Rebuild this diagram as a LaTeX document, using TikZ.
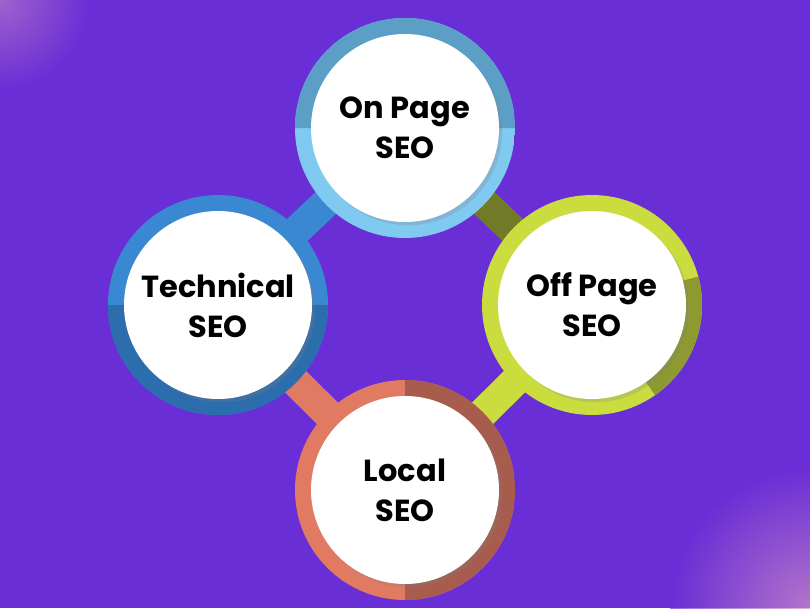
\documentclass[tikz,border=0pt]{standalone}
\usepackage{fontspec}
\setmainfont{Poppins}
\usepackage{tikz}
\usetikzlibrary{positioning,calc,backgrounds,shadows}
\definecolor{bgpurple}{HTML}{6A2ED6}
\definecolor{topA}{HTML}{5C9FC6}
\definecolor{topB}{HTML}{80C9F1}
\definecolor{leftA}{HTML}{3A88D2}
\definecolor{leftB}{HTML}{2C6DAE}
\definecolor{rightA}{HTML}{CBDD3E}
\definecolor{rightB}{HTML}{8E9A30}
\definecolor{lowA}{HTML}{E07A62}
\definecolor{lowB}{HTML}{A85C4E}
\begin{document}
\begin{tikzpicture}[x=0.03cm,y=-0.03cm,
    % ring with a darker arc
    ring/.style n args={4}{circle, minimum size=220*0.03cm, inner sep=0pt,
      path picture={
        \fill[#1] (path picture bounding box.south west) rectangle (path picture bounding box.north east);
        \fill[#2] (path picture bounding box.center) -- ++(#3:300) arc[start angle=#3, end angle=#4, radius=300] -- cycle;
      }},
    disc/.style={circle, fill=white, minimum size=188*0.03cm, inner sep=0pt,
      drop shadow={opacity=0.25}, align=center,
      font=\fontsize{26}{34}\selectfont\bfseries},
    link/.style={line width=30*0.03cm}
]
    % --- Background ---
    \fill[bgpurple] (0,0) rectangle (810,608);
    \begin{scope}
      \clip (0,0) rectangle (810,608);
      \shade[inner color=pink!60!bgpurple, outer color=bgpurple, opacity=0.6] (0,0) circle[radius=90];
      \shade[inner color=pink!70!bgpurple, outer color=bgpurple, opacity=0.7] (810,608) circle[radius=140];
    \end{scope}
    \useasboundingbox (0,0) rectangle (810,608);

    % --- Centres ---
    \coordinate (ctop) at (405,128);
    \coordinate (cleft) at (218,305);
    \coordinate (cright) at (592,305);
    \coordinate (clow) at (405,490);

    % --- Links ---
    \draw[link, leftA] (ctop) -- (cleft);
    \draw[link, rightB!80!black] (ctop) -- (cright);
    \draw[link, lowA] (cleft) -- (clow);
    \draw[link, rightA] (cright) -- (clow);

    % --- Rings ---
    \node[ring={topB}{topA}{0}{-180}] (rtop) at (ctop) {};
    \node[ring={leftA}{leftB}{0}{180}] (rleft) at (cleft) {};
    \node[ring={rightA}{rightB}{-15}{55}] (rright) at (cright) {};
    \node[ring={lowA}{lowB}{90}{-90}] (rlow) at (clow) {};

    % --- Discs ---
    \node[disc] (onpage) at (ctop) {On Page\\SEO};
    \node[disc] (technical) at (cleft) {Technical\\SEO};
    \node[disc] (offpage) at (cright) {Off Page\\SEO};
    \node[disc] (local) at (clow) {Local\\SEO};
\end{tikzpicture}
\end{document}
